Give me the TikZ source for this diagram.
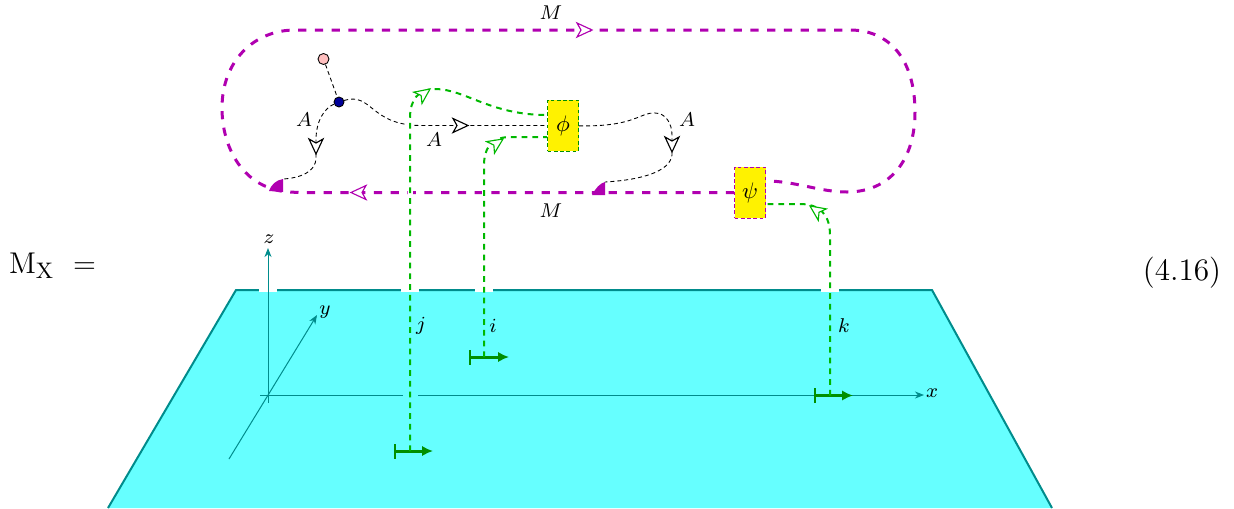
\documentclass[tikz,border=0pt]{standalone}
\usetikzlibrary{arrows.meta}
\definecolor{planefill}{rgb}{0.4,1,1}
\definecolor{planeedge}{rgb}{0,0.55,0.55}
\definecolor{mline}{rgb}{0.69,0,0.69}
\definecolor{gline}{rgb}{0,0.72,0}
\definecolor{gbar}{rgb}{0,0.56,0}
\tikzset{
    lab/.style={inner sep=0pt, font=\fontsize{8.5}{10}\selectfont},
    eqlab/.style={inner sep=0pt, font=\fontsize{12.5}{14}\selectfont},
    membrane/.style={mline, line width=1.2pt, dash pattern=on 3.3pt off 3.4pt},
    wline/.style={gline, line width=0.8pt, dash pattern=on 2.3pt off 2pt},
    aline/.style={black, line width=0.35pt, dash pattern=on 1.6pt off 1.2pt},
    axisline/.style={planeedge, line width=0.4pt, -{Stealth[length=3.6pt, width=2.8pt, inset=1.1pt]}},
    defect/.style={draw, fill=yellow, minimum width=12.4pt, minimum height=20.4pt, inner sep=0pt, line width=0.4pt, dash pattern=on 1.5pt off 1pt},
    dot/.style={circle, draw=black, line width=0.35pt, inner sep=0pt, minimum size=#1},
    barb/.style={gbar, line width=1.2pt, {Bar[width=6pt, line width=0.8pt]}-{Latex[length=4.4pt, width=4.2pt]}},
    openhead/.pic={\draw[fill=white, line width=0.45pt] (0,0) -- (-15,-7) -- (-11,0) -- (-15,7) -- cycle;},
}
\begin{document}
\begin{tikzpicture}[x=0.4pt, y=-0.4pt]
    \useasboundingbox (0,0) rectangle (1234,508);
    % plane
    \fill[planefill] (236,290) -- (932,290) -- (1052,508) -- (108,508) -- cycle;
    \draw[planeedge, line width=0.8pt] (108,508) -- (236,290) -- (932,290) -- (1052,508);
    \foreach \xgap in {268,410,484,830}
        \draw[white, line width=1.8pt] (\xgap-9,289.5) -- (\xgap+9,289.5);
    % axes
    \coordinate (zfoot) at (268,403);
    \coordinate (ztip) at (268,248);
    \coordinate (xfoot) at (260,395);
    \coordinate (xtip) at (924,395);
    \coordinate (yfoot) at (229,459);
    \coordinate (ytip) at (317,315);
    \draw[axisline] (zfoot) -- (ztip);
    \draw[axisline] (xfoot) -- (xtip);
    \draw[axisline] (yfoot) -- (ytip);
    \draw[planefill, line width=1pt] (403,395) -- (418,395);
    \node[lab] (zlab) at (269,239) {$z$};
    \node[lab] (xlab) at (932,393) {$x$};
    \node[lab] (ylab) at (325,312) {$y$};
    % defects and junctions
    \node[defect, draw=gbar] (phi) at (563,125.5) {\fontsize{9.5}{10}\selectfont$\phi$};
    \node[defect, draw=mline] (psi) at (750,192.5) {\fontsize{9.5}{10}\selectfont$\psi$};
    \node[dot=4.4pt, fill=red!25] (pink) at (323.5,59) {};
    \node[dot=4pt, fill=blue!60!black] (blue) at (339,102) {};
    % boundary line
    \coordinate (lfoot) at (283,179);
    \coordinate (rfoot) at (605,182);
    \draw[membrane] (psi.west) -- (300,192.5) .. controls (285,192) and (277,191) .. (270,188)
        .. controls (240,178) and (222,145) .. (222,108) .. controls (222,60) and (255,30) .. (295,30)
        -- (850,30) .. controls (890,30) and (915,60) .. (915,112)
        .. controls (915,160) and (890,192) .. (847,192)
        .. controls (820,192) and (795,181) .. ([yshift=4.6pt]psi.east);
    \fill[mline] (269,191) .. controls (271,185) and (276,180) .. (lfoot) -- (283,192) -- cycle;
    \fill[mline] (592,195) .. controls (595,189) and (600,183) .. (rfoot) -- (605,195) -- cycle;
    \pic[color=mline] at (592,30) {openhead};
    \pic[color=mline, rotate=180] at (351,192.5) {openhead};
    % adjoint lines
    \draw[aline] (pink) -- (blue);
    \draw[aline] (blue) .. controls (325,108) and (316,120) .. (316,140) -- (316,158)
        .. controls (316,172) and (300,178) .. (lfoot);
    \draw[aline] (blue) .. controls (372,92) and (370,125) .. (420,125.5) -- (phi);
    \draw[aline] (phi) .. controls (635,127) and (640,112) .. (655,113)
        .. controls (666,113) and (672,124) .. (672,135) -- (672,155)
        .. controls (670,172) and (640,180) .. (rfoot);
    \pic[rotate=-90] at (316,154) {openhead};
    \pic at (468,125.5) {openhead};
    \pic[rotate=-90] at (672,152) {openhead};
    \node[lab] (aa) at (304,120) {$A$};
    \node[lab] (ab) at (434,140) {$A$};
    \node[lab] (ac) at (687,120) {$A$};
    \node[lab] (ma) at (551,13) {$M$};
    \node[lab] (mb) at (551,211) {$M$};
    % wilson lines
    \draw[white, line width=2.6pt] (410,120) -- (410,135);
    \draw[white, line width=2pt] (410,188) -- (410,197);
    \draw[white, line width=2pt] (484,188) -- (484,197);
    \coordinate (jbar) at (394,451);
    \coordinate (ibar) at (469,357);
    \coordinate (kbar) at (814,395.5);
    \coordinate (jend) at (433,451);
    \coordinate (iend) at (509,357);
    \coordinate (kend) at (853,395.5);
    \draw[barb] (jbar) -- (jend);
    \draw[barb] (ibar) -- (iend);
    \draw[barb] (kbar) -- (kend);
    \draw[wline] (410,451) -- (410,118) .. controls (410,100) and (418,89) .. (435,89)
        .. controls (465,89) and (490,115) .. ([yshift=4.2pt]phi.west);
    \draw[wline] (484,357) -- (484,165) .. controls (484,150) and (490,137) .. (510,137)
        -- ([yshift=-4.6pt]phi.west);
    \draw[wline] (830,395.5) -- (830,235) .. controls (830,215) and (820,204) .. (800,204)
        -- ([yshift=-4.6pt]psi.east);
    \pic[color=gline, rotate=36] at (430,89) {openhead};
    \pic[color=gline, rotate=34] at (503,139) {openhead};
    \pic[color=gline, rotate=145] at (810,206) {openhead};
    \node[lab] (jlab) at (421,326) {$j$};
    \node[lab] (ilab) at (493,326) {$i$};
    \node[lab] (klab) at (844,326) {$k$};
    % equation
    \node[eqlab] (lhs) at (52.5,266) {$\mathrm{M}_{\mathrm{X}}\ =$};
    \node[eqlab] (eqn) at (1182,273) {(4.16)};
\end{tikzpicture}
\end{document}
